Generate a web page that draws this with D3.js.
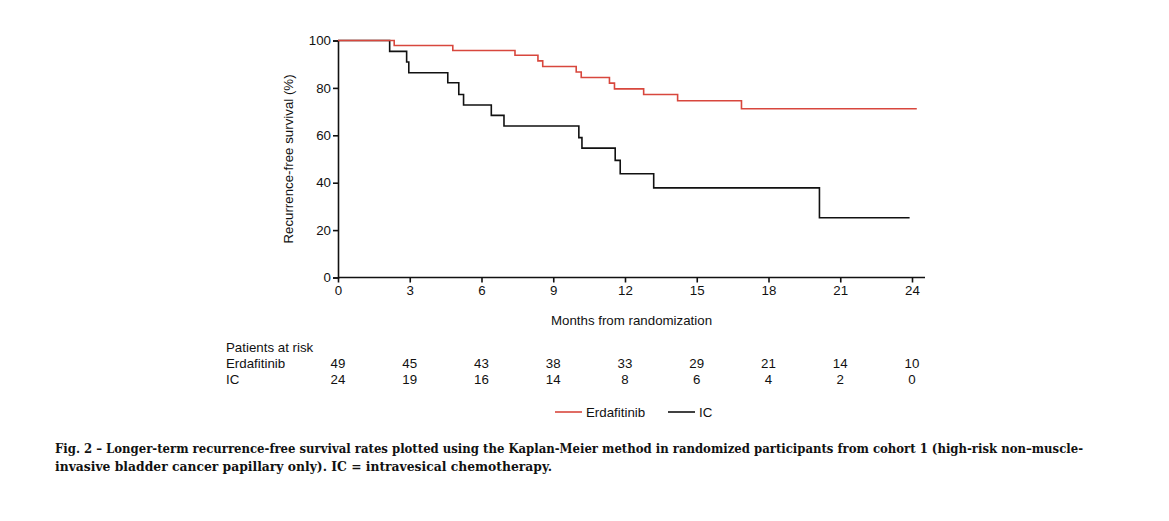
<!DOCTYPE html>
<html>
<head>
<meta charset="utf-8">
<script src="https://cdn.jsdelivr.net/npm/d3@7"></script>
<style>
  body { margin: 0; background: #fff; }
  svg { display: block; }
  text { font-family: "Liberation Sans", Arial, sans-serif; fill: #111; }
  .caption { font-family: "DejaVu Serif", serif; font-weight: bold; font-size: 12.5px; }
</style>
</head>
<body>
<svg id="chart" width="1169" height="521"></svg>
<script>
'use strict';

// Kaplan-Meier steps: [month, survival %]
var erdaSteps = [
  [0, 100], [2.35, 97.9], [4.8, 95.8], [7.4, 93.8], [8.36, 91.4], [8.56, 89.0],
  [9.96, 86.7], [10.17, 84.4], [11.35, 82.0], [11.56, 79.6], [12.78, 77.2],
  [14.2, 74.6], [16.87, 71.2], [24.2, 71.2]
];
var icSteps = [
  [0, 100], [2.16, 95.4], [2.87, 90.9], [2.96, 86.4], [4.59, 82.2], [5.05, 77.2],
  [5.25, 72.8], [6.41, 68.4], [6.94, 63.9], [10.07, 59.0], [10.2, 54.6],
  [11.59, 49.4], [11.8, 43.8], [13.2, 37.8], [20.13, 25.2], [23.9, 25.2]
];

var xTicks = [0, 3, 6, 9, 12, 15, 18, 21, 24];
var yTicks = [0, 20, 40, 60, 80, 100];
var atRiskErda = [49, 45, 43, 38, 33, 29, 21, 14, 10];
var atRiskIC = [24, 19, 16, 14, 8, 6, 4, 2, 0];

var RED = '#d8473d';
var BLACK = '#111';
var FS = '13.3px';

var svg = d3.select('#chart');

var x = d3.scaleLinear().domain([0, 24]).range([338, 912]);
var y = d3.scaleLinear().domain([0, 100]).range([277.5, 40.5]);

// axes
var xAxis = d3.axisBottom(x).tickValues(xTicks).tickSize(5).tickPadding(3);
var gx = svg.append('g').attr('transform', 'translate(0,' + y(0) + ')').call(xAxis);
gx.select('.domain').attr('d', 'M' + x(0) + ',0H' + (x(24) + 13));

var yAxis = d3.axisLeft(y).tickValues(yTicks).tickSize(5).tickPadding(2);
var gy = svg.append('g').attr('transform', 'translate(' + x(0) + ',0)').call(yAxis);

[gx, gy].forEach(function (g) {
  g.selectAll('.domain').attr('stroke', BLACK).attr('stroke-width', 1.6);
  g.selectAll('.tick line').attr('stroke', BLACK).attr('stroke-width', 1.6);
  g.selectAll('.tick text').style('font-size', FS).attr('fill', '#111');
});

svg.append('text')
  .attr('transform', 'translate(293,' + y(50) + ') rotate(-90)')
  .attr('text-anchor', 'middle')
  .style('font-size', FS)
  .text('Recurrence-free survival (%)');

svg.append('text')
  .attr('x', (x(0) + x(24) + 13) / 2)
  .attr('y', 325)
  .attr('text-anchor', 'middle')
  .style('font-size', FS)
  .text('Months from randomization');

// curves
var line = d3.line()
  .x(function (d) { return x(d[0]); })
  .y(function (d) { return y(d[1]); })
  .curve(d3.curveStepAfter);

svg.append('path').datum(icSteps)
  .attr('d', line).attr('fill', 'none')
  .attr('stroke', BLACK).attr('stroke-width', 1.6);

svg.append('path').datum(erdaSteps)
  .attr('d', line).attr('fill', 'none')
  .attr('stroke', RED).attr('stroke-width', 1.6);

// patients at risk
svg.append('text').attr('x', 226).attr('y', 352).style('font-size', FS).text('Patients at risk');
svg.append('text').attr('x', 226).attr('y', 368).style('font-size', FS).text('Erdafitinib');
svg.append('text').attr('x', 226).attr('y', 384).style('font-size', FS).text('IC');

svg.selectAll('.riskE').data(atRiskErda).enter().append('text')
  .attr('x', function (d, i) { return x(xTicks[i]); })
  .attr('y', 368)
  .attr('text-anchor', 'middle')
  .style('font-size', FS)
  .text(function (d) { return d; });

svg.selectAll('.riskI').data(atRiskIC).enter().append('text')
  .attr('x', function (d, i) { return x(xTicks[i]); })
  .attr('y', 384)
  .attr('text-anchor', 'middle')
  .style('font-size', FS)
  .text(function (d) { return d; });

// legend
var legend = [
  {name: 'Erdafitinib', color: RED, x: 555},
  {name: 'IC', color: BLACK, x: 668}
];
legend.forEach(function (l) {
  svg.append('line').attr('x1', l.x).attr('x2', l.x + 27)
    .attr('y1', 412).attr('y2', 412)
    .attr('stroke', l.color).attr('stroke-width', 1.6);
  svg.append('text').attr('x', l.x + 31).attr('y', 417)
    .style('font-size', FS).text(l.name);
});

// caption
svg.append('text').attr('class', 'caption')
  .attr('x', 55).attr('y', 453)
  .attr('textLength', 1028).attr('lengthAdjust', 'spacingAndGlyphs')
  .text('Fig. 2 \u2013 Longer-term recurrence-free survival rates plotted using the Kaplan-Meier method in randomized participants from cohort 1 (high-risk non\u2013muscle-');
svg.append('text').attr('class', 'caption')
  .attr('x', 55).attr('y', 471)
  .attr('textLength', 497).attr('lengthAdjust', 'spacingAndGlyphs')
  .text('invasive bladder cancer papillary only). IC = intravesical chemotherapy.');
</script>
</body>
</html>
